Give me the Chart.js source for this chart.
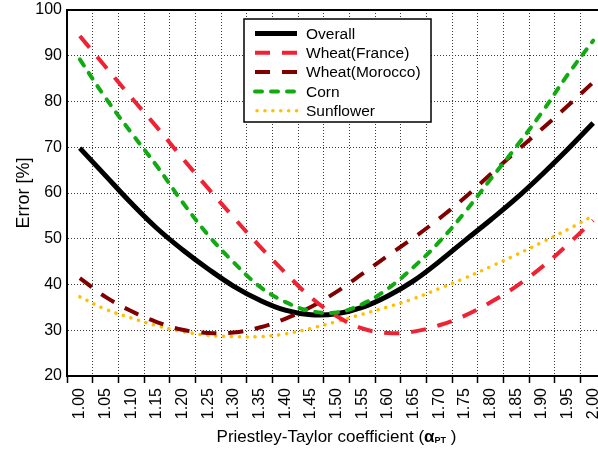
<!DOCTYPE html>
<html>
<head>
<meta charset="utf-8">
<script src="https://cdn.jsdelivr.net/npm/chart.js@4"></script>
<style>
  html, body { margin: 0; padding: 0; overflow: hidden; background: #fff; }
  #wrap { position: relative; width: 607px; height: 453px; }
  #xtitle {
    position: absolute; left: 67px; width: 539px; top: 427px;
    text-align: center; font: 17px 'Liberation Sans', Arial, sans-serif; color: #000; line-height: 20px;
  }
  #xtitle sub { font-size: 9px; font-weight: bold; vertical-align: -1px; }
</style>
</head>
<body>
<div id="wrap">
  <canvas id="errChart"></canvas>
  <div id="xtitle">Priestley-Taylor coefficient (<b>α</b><sub>PT</sub> )</div>
</div>
<script>
const alphas = ['1.00', '1.05', '1.10', '1.15', '1.20', '1.25', '1.30', '1.35', '1.40', '1.45', '1.50',
  '1.55', '1.60', '1.65', '1.70', '1.75', '1.80', '1.85', '1.90', '1.95', '2.00'];

const overall = [69.8, 63.8, 57.8, 52.3, 47.6, 43.4, 39.6, 36.6, 34.4, 33.4, 33.6,
  35.0, 37.5, 40.8, 45.0, 49.6, 54.1, 58.8, 64.0, 69.5, 75.3];
const wheatFrance = [94.3, 87.6, 80.9, 74.4, 67.6, 61.0, 54.6, 48.4, 42.6, 37.2, 33.1,
  30.4, 29.4, 29.7, 31.1, 33.2, 36.1, 39.6, 43.8, 48.7, 54.0];
const wheatMorocco = [41.4, 37.3, 34.2, 31.8, 30.1, 29.4, 29.5, 30.6, 32.5, 35.1, 38.4,
  42.3, 46.3, 50.2, 54.4, 59.0, 64.1, 69.1, 74.0, 79.0, 84.2];
const corn = [89.2, 80.8, 73.2, 65.9, 58.0, 50.8, 44.8, 39.6, 36.2, 34.2, 33.9,
  35.7, 39.1, 43.8, 49.3, 55.8, 63.0, 70.1, 77.6, 85.8, 93.3];
const sunflower = [37.3, 34.6, 32.7, 31.0, 29.7, 28.9, 28.6, 28.6, 29.2, 30.4, 31.9,
  33.5, 35.1, 36.9, 39.1, 41.4, 43.9, 46.5, 49.2, 52.0, 55.0];

const yTicks = { min: 20, max: 100, step: 10 };

const C = {
  black: '#000000',
  red: '#ee2233',
  darkRed: '#800000',
  green: '#11aa11',
  yellow: '#ffc000',
  grid: '#3a3a3a',
};
const FONT = "'Liberation Sans', Arial, sans-serif";

// legend inside the plot, drawn by hand like the original
const boxLegend = {
  id: 'boxLegend',
  afterDraw(chart) {
    const ctx = chart.ctx;
    const x0 = 244, y0 = 19, w = 187, h = 103;
    ctx.save();
    ctx.fillStyle = '#fff';
    ctx.fillRect(x0, y0, w, h);
    ctx.lineWidth = 1.5;
    ctx.strokeStyle = '#000';
    ctx.strokeRect(x0, y0, w, h);
    ctx.font = '15.5px ' + FONT;
    ctx.textBaseline = 'middle';
    chart.data.datasets.forEach((ds, i) => {
      const y = 33.5 + i * 19.3;
      ctx.beginPath();
      ctx.strokeStyle = ds.borderColor;
      ctx.lineWidth = ds.borderWidth;
      ctx.lineCap = ds.borderCapStyle || 'butt';
      ctx.setLineDash(ds.borderDash || []);
      ctx.moveTo(i === 4 ? 257 : 255, y);
      ctx.lineTo(297, y);
      ctx.stroke();
      ctx.setLineDash([]);
      ctx.fillStyle = '#000';
      ctx.fillText(ds.label, 306, y + 1);
    });
    ctx.restore();
  },
};

// solid top frame line
const topFrame = {
  id: 'topFrame',
  beforeDatasetsDraw(chart) {
    const { ctx, chartArea } = chart;
    ctx.save();
    ctx.strokeStyle = '#000';
    ctx.lineWidth = 2;
    ctx.beginPath();
    ctx.moveTo(chartArea.left, chartArea.top);
    ctx.lineTo(chartArea.right + 2, chartArea.top);
    ctx.stroke();
    ctx.restore();
  },
};

new Chart(document.getElementById('errChart'), {
  type: 'line',
  data: {
    labels: alphas,
    datasets: [
      { label: 'Overall', data: overall, borderColor: C.black, borderWidth: 5, order: 5 },
      { label: 'Wheat(France)', data: wheatFrance, borderColor: C.red, borderWidth: 4, borderDash: [15, 12], order: 2 },
      { label: 'Wheat(Morocco)', data: wheatMorocco, borderColor: C.darkRed, borderWidth: 4, borderDash: [15, 12], order: 3 },
      { label: 'Corn', data: corn, borderColor: C.green, borderWidth: 4, borderDash: [7, 9], borderCapStyle: 'round', order: 1 },
      { label: 'Sunflower', data: sunflower, borderColor: C.yellow, borderWidth: 3.5, borderDash: [0.1, 7.8], borderCapStyle: 'round', order: 4 },
    ],
  },
  options: {
    responsive: true,
    maintainAspectRatio: false,
    animation: false,
    devicePixelRatio: 1,
    layout: { padding: { top: 10, right: 1, left: 0, bottom: 0 } },
    elements: { point: { radius: 0 }, line: { tension: 0.4, fill: false } },
    plugins: { legend: { display: false }, tooltip: { enabled: false } },
    scales: {
      x: {
        offset: true,
        grid: { offset: true, color: C.grid, lineWidth: 1, tickLength: 7, tickColor: '#000', tickWidth: 1.5 },
        border: { color: '#000', width: 2, dash: [1, 2] },
        ticks: { color: '#000', font: { size: 16, family: FONT }, autoSkip: false, maxRotation: 90, minRotation: 90, padding: 5 },
        afterFit: s => { s.height = 77; s.paddingLeft = 0; s.paddingRight = 0; },
      },
      y: {
        min: yTicks.min,
        max: yTicks.max,
        grid: { color: C.grid, lineWidth: 1, drawTicks: false },
        border: { color: '#000', width: 2, dash: [1, 2] },
        ticks: { stepSize: yTicks.step, color: '#000', font: { size: 16, family: FONT }, padding: 5 },
        title: { display: true, text: 'Error [%]', color: '#000', font: { size: 18, family: FONT }, padding: { top: 13, bottom: 0 } },
        afterFit: s => { s.width = 67; s.paddingTop = 0; s.paddingBottom = 0; },
      },
    },
  },
  plugins: [topFrame, boxLegend],
});
</script>
</body>
</html>
